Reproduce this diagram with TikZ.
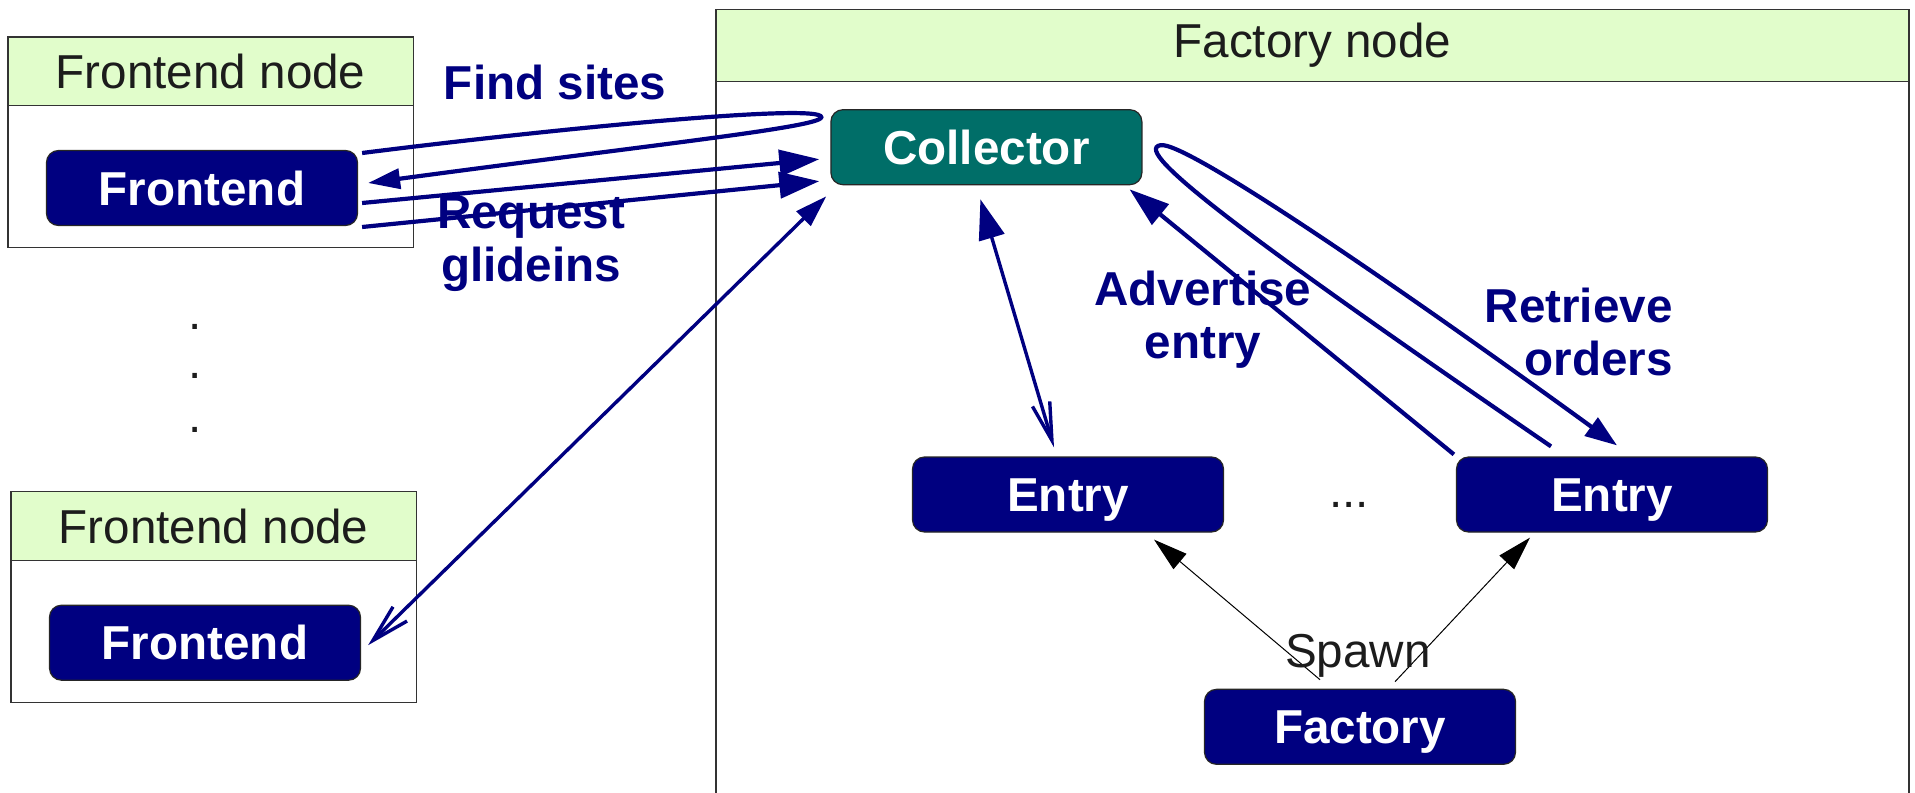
\documentclass[tikz,border=0pt]{standalone}
\usepackage{fontspec}
\setmainfont{Liberation Sans}
\usetikzlibrary{
		calc,
		positioning,
		arrows.meta
	}
\definecolor{glnavy}{RGB}{0,0,128}
\definecolor{glteal}{RGB}{0,110,104}
\definecolor{glhead}{RGB}{225,253,203}
\definecolor{gltext}{RGB}{28,28,28}
\tikzset{
		>=stealth,
		comp/.style={draw=black!85, line width=0.6pt, fill=glnavy, rounded corners=6pt, text=white, font=\fontsize{23.8}{26}\selectfont\bfseries, text height=17pt, text depth=0pt, minimum width=155.5pt, minimum height=37.5pt, inner sep=0pt},
		title/.style={text=gltext, font=\fontsize{23.8}{26}\selectfont, inner sep=0pt},
		lbl/.style={text=glnavy, font=\fontsize{23.8}{26.5}\selectfont\bfseries, align=center, inner sep=0pt},
		host/.style={draw=black!80, line width=0.7pt},
		flow/.style={draw=glnavy, line width=2.1pt, -{Triangle[length=20pt,width=13pt]}},
		both/.style={draw=glnavy, line width=1.7pt, {Straight Barb[length=19pt,width=9pt]}-{Triangle[length=20pt,width=13pt]}},
		spawn/.style={draw=black, line width=0.5pt, -{Triangle[length=17pt,width=10pt]}}
	}

\begin{document}
\begin{tikzpicture}[x=0.5pt, y=-0.5pt] % one unit = one pixel of the drawing, y pointing down
		\useasboundingbox (0,0) rectangle (1915,792);
		% frontend hosts
		\foreach \n/\x/\y in {1/8/37, 2/11/491.7}{
			\draw[host, fill=glhead] (\x,\y) rectangle (\x+405.5,\y+68.5);
			\draw[host] (\x,\y+68.5) rectangle (\x+405.5,\y+210.5);
			\node[title] (fn\n title) at (\x+202.7,\y+34.3) {Frontend node};
			\node[comp] (fe\n) at (\x+194,\y+151) {Frontend};
		}
		\foreach \y in {327,376,430}{
			\node[title] (vdots\y) at (195.4,\y) {.};
		}
		% factory host
		\draw[host, fill=glhead] (716,9.3) rectangle (1909,81.7);
		\draw[host] (716,81.7) -- (716,800) (1909,81.7) -- (1909,800);
		\node[title] (factorytitle) at (1312.5,45.5) {Factory node};
		\node[comp, fill=glteal] (coll) at (986.4,147.2) {Collector};
		\node[comp] (entry1) at (1068,494.5) {Entry};
		\node[comp] (entry2) at (1612,494.5) {Entry};
		\node[title] (hdots) at (1349,505) {...};
		\node[comp] (fact) at (1360,726.8) {Factory};

		% frontend <-> collector
		\draw[flow, -{Triangle[length=16pt,width=10pt]}] ($(fe1.east)+(4,-35)$) .. controls (560,128) and (822,103) .. ($(coll.west)+(-9,-30)$) .. controls ($(coll.west)+(-9,-20)$) and (650,145) .. ($(fe1.east)+(10,-5)$);
		\draw[flow] ($(fe1.east)+(4,15)$) -- ($(coll.west)+(-11,12)$);
		\draw[flow] ($(fe1.east)+(4,39)$) -- ($(coll.west)+(-11,34)$);
		\node[lbl] (findlbl) at (555,82) {Find sites};
		\node[lbl] (reqlbl) at (531,243.5) {Request\\glideins};
		\draw[both, {Straight Barb[length=19pt,width=10pt]}-{Triangle[length=16pt,width=10pt]}] ($(fe2.east)+(7,2.5)$) -- ($(coll.south west)+(-4,11)$);

		% entries <-> collector
		\draw[both] ($(entry1.north)+(-14,-9)$) -- ($(coll.south)+(-6,14)$);
		\draw[flow] ($(entry2.north west)+(-2,-2)$) -- ($(coll.south east)+(-13,4)$);
		\node[lbl] (advlbl) at (1203,320) {Advertise\\entry};
		\draw[flow, -{Triangle[length=16pt,width=11pt]}] ($(entry2.north)+(-61,-10)$) .. controls (1250,240) and (1130,150) .. ($(coll.east)+(18,-2)$) .. controls ($(coll.east)+(43,-7)$) and (1410,295) .. ($(entry2.north)+(5,-11)$);
		\node[lbl, align=right, anchor=east] (retlbl) at (1673,331.5) {Retrieve\\orders};

		% factory spawns entries
		\draw[spawn] ($(fact.north)+(-40,-9)$) -- ($(entry1.south)+(86,7)$);
		\draw[spawn] ($(fact.north)+(35,-7)$) -- ($(entry2.south)+(-82,5)$);
		\node[title] (spawnlbl) at (1358,655.7) {Spawn};
	\end{tikzpicture}
\end{document}
